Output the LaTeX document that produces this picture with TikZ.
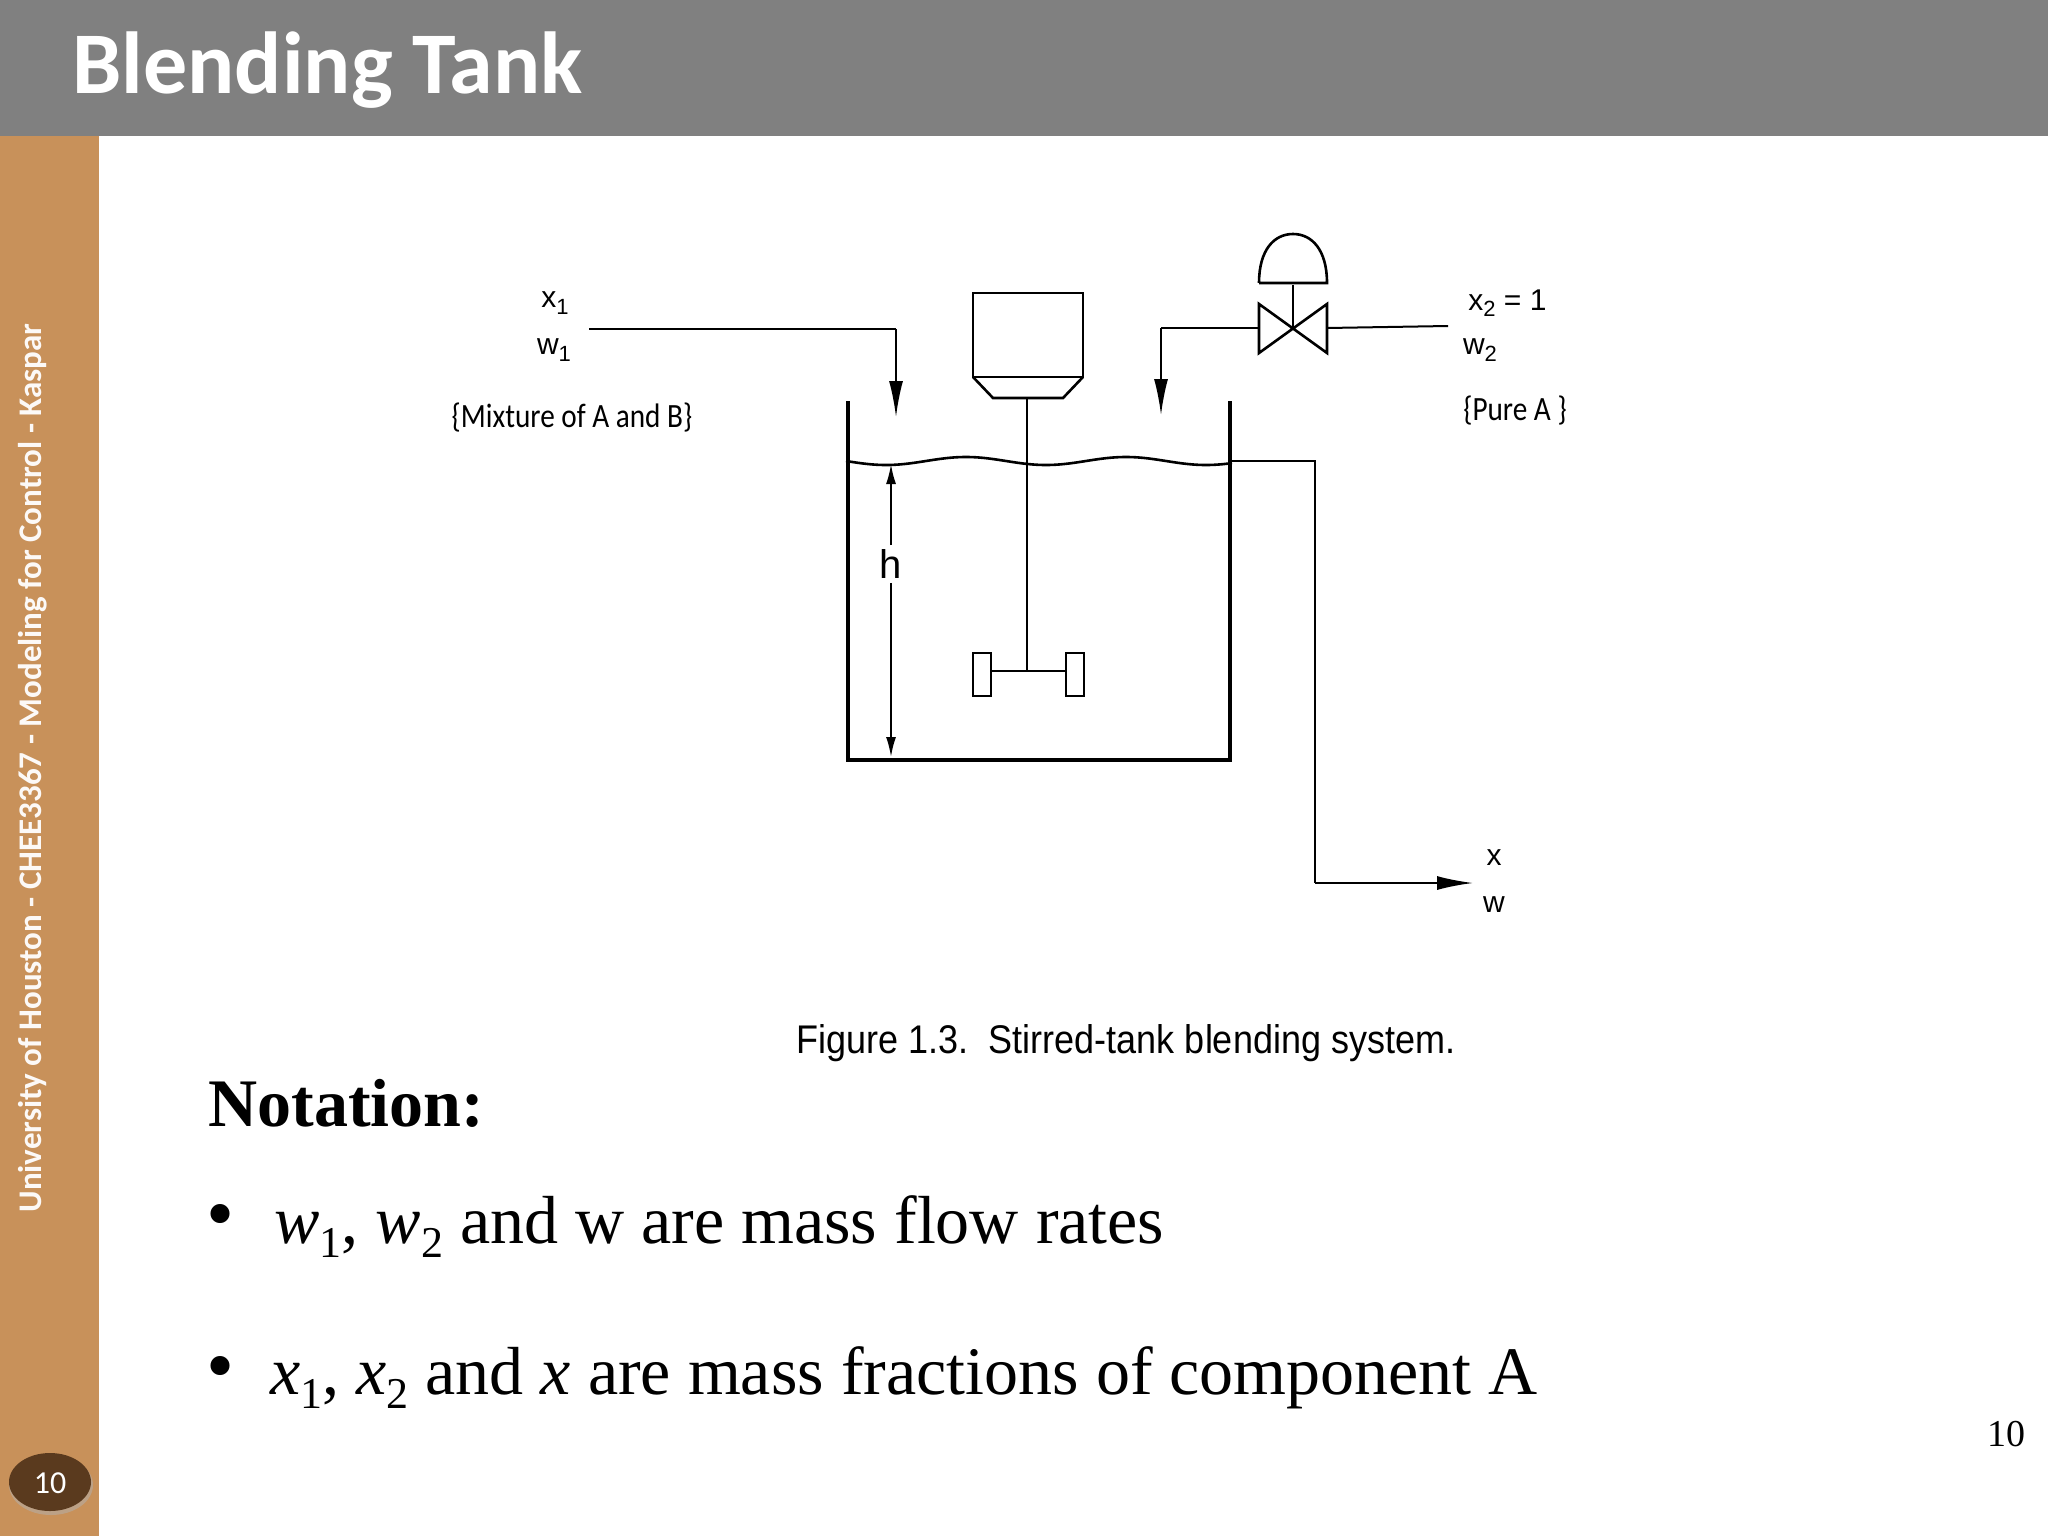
\documentclass[tikz,border=0pt]{standalone}
\usepackage{fontspec}
\setmainfont{Liberation Serif}
\newfontfamily\calib{Carlito}
\newfontfamily\helv{Liberation Sans}
\usetikzlibrary{arrows.meta,shapes.geometric}
\newcommand{\lowsub}[1]{\raisebox{-0.45ex}{\fontsize{22}{22}\selectfont #1}}
\newcommand{\dsub}[1]{\raisebox{-0.4ex}{\fontsize{11}{11}\selectfont #1}}
\definecolor{hdr}{HTML}{808080}
\definecolor{side}{HTML}{C8915A}
\definecolor{badge}{HTML}{5A3A1E}
\definecolor{rd}{HTML}{A0182A}
\begin{document}
\begin{tikzpicture}[x=0.5pt,y=-0.5pt,
  ln/.style={line width=1pt},
  thk/.style={line width=1.6pt},
  arr/.style={ln,-{Latex[length=18pt,width=7pt]}},
  lbl/.style={font=\helv\fontsize{15}{15}\selectfont,inner sep=0pt},
  brace/.style={font=\calib\fontsize{17}{17}\selectfont,inner sep=0pt},
  txt/.style={anchor=base west,inner sep=0pt,font=\fontsize{34}{34}\selectfont}]
\useasboundingbox (0,0) rectangle (2048,1536);
\fill[white] (0,0) rectangle (2048,1536);
\fill[hdr] (0,0) rectangle (2048,136);
\fill[side] (0,136) rectangle (99,1536);
\node[anchor=west,inner sep=0pt,text=white,font=\calib\bfseries\fontsize{44}{44}\selectfont] (title) at (72,70) {Blending Tank};
\node[rotate=90,inner sep=0pt,text=white!95!side,font=\calib\bfseries\fontsize{16.5}{16.5}\selectfont] (sidetxt) at (33,768) {University of Houston - CHEE3367 - Modeling for Control - Kaspar};
\fill[black!30,opacity=0.5] (51,1485) ellipse (42 and 30);
\node[ellipse,fill=badge,minimum width=41pt,minimum height=29pt,inner sep=0pt] (badge) at (50,1482) {};
\node[text=white,font=\calib\fontsize{16}{16}\selectfont] (pnum) at (50,1483) {10};
% tank
\coordinate (tl) at (848,401); \coordinate (bl) at (848,760);
\coordinate (br) at (1230,760); \coordinate (tr) at (1230,401);
\draw[thk] (tl) -- (bl) -- (br) -- (tr);
% liquid surface
\draw[ln,line width=1.3pt,domain=846:1232,samples=80,smooth] plot (\x,{461+4*sin((\x-846)*2.25)});
\coordinate (s1) at (1230,461); \coordinate (s2) at (1315,461);
\coordinate (s3) at (1315,883); \coordinate (outend) at (1473,883);
\draw[ln] (s1) -- (s2) -- (s3);
\draw[arr] (s3) -- (outend);
\node[lbl] (xo) at (1494,858) {x};
\node[lbl] (wo) at (1494,905) {w};
% inlet 1
\coordinate (i1a) at (589,329); \coordinate (i1b) at (896,329); \coordinate (i1c) at (896,417);
\draw[ln] (i1a) -- (i1b);
\draw[arr] (i1b) -- (i1c);
\node[lbl] (x1) at (555,303) {x\dsub{1}};
\node[lbl] (w1) at (554,350) {w\dsub{1}};
\node[brace] (mix) at (572,418) {\scalebox{0.86}[1]{\{Mixture of A and B\}}};
% motor
\draw[ln,line width=1.3pt] (973,293) rectangle (1083,377);
\draw[ln,line width=1.3pt] (973,377) -- (993,398) -- (1063,398) -- (1083,377);
\draw[ln] (1027,398) -- (1027,671);
\draw[ln,line width=1.3pt] (991,671) -- (1066,671);
\draw[ln] (973,653) rectangle (991,696);
\draw[ln] (1066,653) rectangle (1084,696);
% height
\node[font=\helv\fontsize{20}{20}\selectfont,inner sep=2pt,fill=white] (h) at (891,564) {h};
\coordinate (htop) at (891,464); \coordinate (hbot) at (891,757);
\draw[ln,-{Latex[length=10pt,width=5pt]}] (h) -- (htop);
\draw[ln,-{Latex[length=10pt,width=5pt]}] (h) -- (hbot);
% inlet 2 with valve
\coordinate (vl) at (1259,328); \coordinate (vr) at (1327,328); \coordinate (vc) at (1293,328);
\draw[ln,line width=1.3pt] (1259,304) -- (1327,353) -- (1327,304) -- (1259,353) -- cycle;
\draw[ln] (vc) -- (1293,285);
\draw[ln,line width=1.3pt] (1259,283) -- (1327,283) .. controls (1327,250) and (1312,234) .. (1293,234) .. controls (1274,234) and (1259,250) .. (1259,283);
\coordinate (i2a) at (1161,328); \coordinate (i2b) at (1161,415);
\draw[ln] (vl) -- (i2a);
\draw[arr] (i2a) -- (i2b);
\coordinate (feed2) at (1448,326);
\draw[ln] (vr) -- (feed2);
\node[lbl,anchor=west] (x2) at (1468,303) {x\dsub{2} = 1};
\node[lbl] (w2) at (1480,350) {w\dsub{2}};
\node[brace] (pa) at (1515,411) {\scalebox{0.86}[1]{\{Pure A \}}};
% caption
\node[inner sep=0pt,font=\helv\fontsize{20}{20}\selectfont] (cap) at (1126,1043) {\scalebox{0.9}[1]{Figure 1.3.\ \ Stirred-tank blending system.}};
% notation
\node[txt,font=\bfseries\fontsize{34}{34}\selectfont] (not) at (208,1126) {Notation:};
\node[anchor=center,inner sep=0pt,font=\fontsize{40}{40}\selectfont] (b1) at (220,1222) {•};
\node[txt] (t1) at (274,1243) {\textit{w}\lowsub{1}, \textit{w}\lowsub{2} and w are mass flow rates};
\node[anchor=center,inner sep=0pt,font=\fontsize{40}{40}\selectfont] (b2) at (220,1374) {•};
\node[txt] (t2) at (270,1394) {\textit{x}\lowsub{1}, \textit{x}\lowsub{2} and \textit{x} are mass fractions of component A};
\node[anchor=base east,inner sep=0pt,font=\fontsize{19}{19}\selectfont] (pg) at (2026,1446) {10};
\end{tikzpicture}
\end{document}
